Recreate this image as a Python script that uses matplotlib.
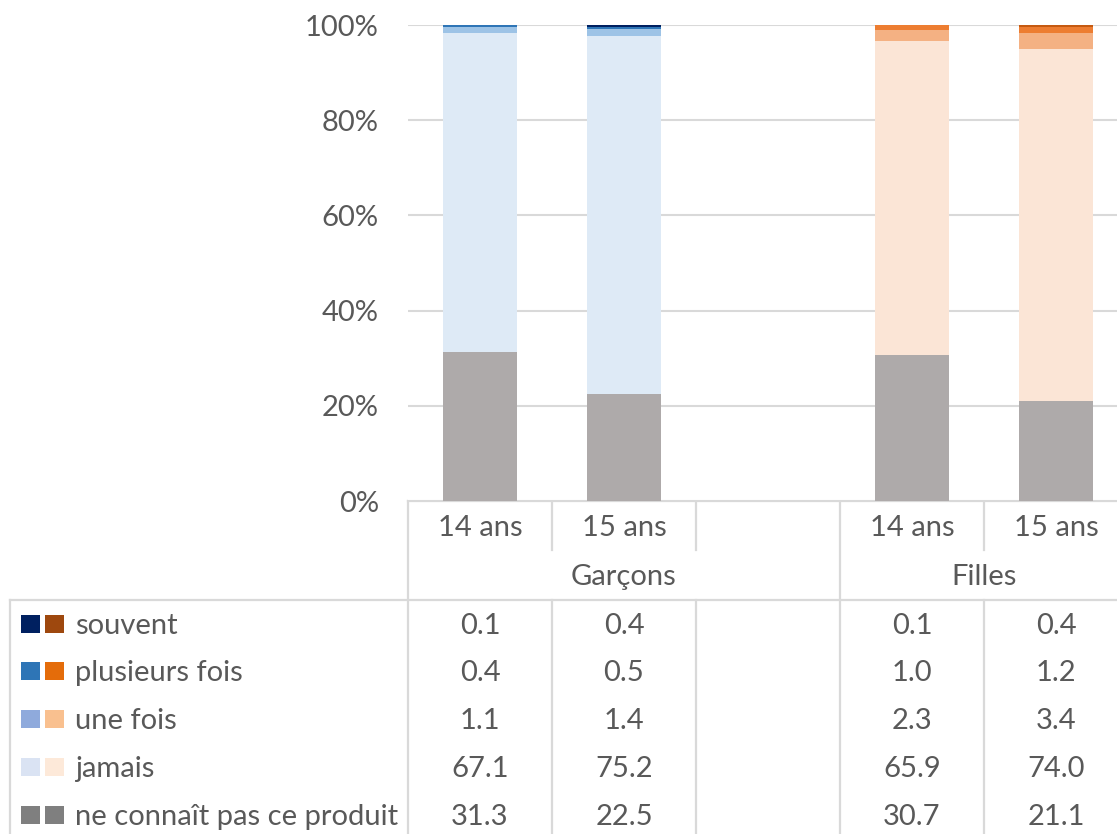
import matplotlib
matplotlib.use("Agg")
import matplotlib.pyplot as plt
from matplotlib.patches import Rectangle

plt.rcParams["font.family"] = ["Lato", "DejaVu Sans"]

# data
groups = ["Garçons", "Filles"]
ages = ["14 ans", "15 ans"]
series = ["souvent", "plusieurs fois", "une fois", "jamais", "ne connaît pas ce produit"]
garcons_14 = [0.1, 0.4, 1.1, 67.1, 31.3]
garcons_15 = [0.4, 0.5, 1.4, 75.2, 22.5]
filles_14 = [0.1, 1.0, 2.3, 65.9, 30.7]
filles_15 = [0.4, 1.2, 3.4, 74.0, 21.1]

columns = [garcons_14, garcons_15, None, filles_14, filles_15]
col_labels = ["14 ans", "15 ans", "", "14 ans", "15 ans"]

blue_cols = ["#002060", "#2E75B6", "#9DC3E6", "#DEEAF6", "#AEAAAA"]
orange_cols = ["#C55A11", "#ED7D31", "#F4B183", "#FBE5D6", "#AEAAAA"]
key_left = ["#002060", "#2E75B6", "#8FAADC", "#DAE3F3", "#7F7F7F"]
key_right = ["#9E480E", "#E46C0A", "#F9C08F", "#FDE9D9", "#7F7F7F"]

TXT = "#595959"
GRID = "#D9D9D9"
FS = 21

W, H = 1117, 834
fig = plt.figure(figsize=(W / 100, H / 100), dpi=100)

# plot area in pixels: x 408..1128, y 25..501
px_l, px_r, px_t, px_b = 408, 1128, 25, 501
ax = fig.add_axes([px_l / W, 1 - px_b / H, (px_r - px_l) / W, (px_b - px_t) / H])
ax.set_xlim(-0.5, 4.5)
ax.set_ylim(0, 100)

for i, vals in enumerate(columns):
    if vals is None:
        continue
    total = sum(vals)
    colors = blue_cols if i < 2 else orange_cols
    bottom = 0.0
    # stack from bottom: last series first
    for k in range(len(series) - 1, -1, -1):
        h = vals[k] / total * 100
        ax.bar(i, h, bottom=bottom, width=0.52, color=colors[k], linewidth=0)
        bottom += h

ax.set_yticks([0, 20, 40, 60, 80, 100])
ax.set_yticklabels(["0%", "20%", "40%", "60%", "80%", "100%"])
ax.tick_params(axis="y", length=0, pad=21, labelsize=FS, labelcolor=TXT)
ax.set_xticks([])
ax.grid(axis="y", color=GRID, linewidth=1.5)
ax.set_axisbelow(True)
for s in ax.spines.values():
    s.set_visible(False)

# table overlay in pixel coordinates
tab = fig.add_axes([0, 0, 1, 1], zorder=-1)
tab.set_xlim(0, W)
tab.set_ylim(H, 0)
tab.axis("off")

col_w = 144
def col_center(i):
    return px_l + col_w * (i + 0.5)

lw = 1.6
# axis line
tab.plot([px_l, W], [px_b, px_b], color=GRID, lw=lw)
# horizontal line above data rows
tab.plot([10, W], [600, 600], color=GRID, lw=lw)
# left border of table
tab.plot([10, 10], [600, H], color=GRID, lw=lw)
# vertical separators
for i in range(6):
    x = px_l + col_w * i
    if i in (0, 3):
        tab.plot([x, x], [px_b, H], color=GRID, lw=lw)
    else:
        tab.plot([x, x], [px_b, 550], color=GRID, lw=lw)
        tab.plot([x, x], [600, H], color=GRID, lw=lw)

# category labels
for i, lab in enumerate(col_labels):
    if lab:
        tab.text(col_center(i), 528, lab, ha="center", va="center", fontsize=FS, color=TXT)
tab.text(px_l + col_w * 1.5, 577, groups[0], ha="center", va="center", fontsize=FS, color=TXT)
tab.text(px_l + col_w * 4, 577, groups[1], ha="center", va="center", fontsize=FS, color=TXT)

# data rows
row_y = [624, 671, 719, 767, 815]
for k, name in enumerate(series):
    y = row_y[k]
    tab.add_patch(Rectangle((21, y - 9), 19, 18, facecolor=key_left[k], edgecolor="none"))
    tab.add_patch(Rectangle((45, y - 9), 19, 18, facecolor=key_right[k], edgecolor="none"))
    tab.text(75, y + 2, name, ha="left", va="center", fontsize=FS, color=TXT)
    for i, vals in enumerate(columns):
        if vals is None:
            continue
        tab.text(col_center(i), y + 2, f"{vals[k]:.1f}", ha="center", va="center", fontsize=FS, color=TXT)

fig.savefig("out.png", dpi=100)
